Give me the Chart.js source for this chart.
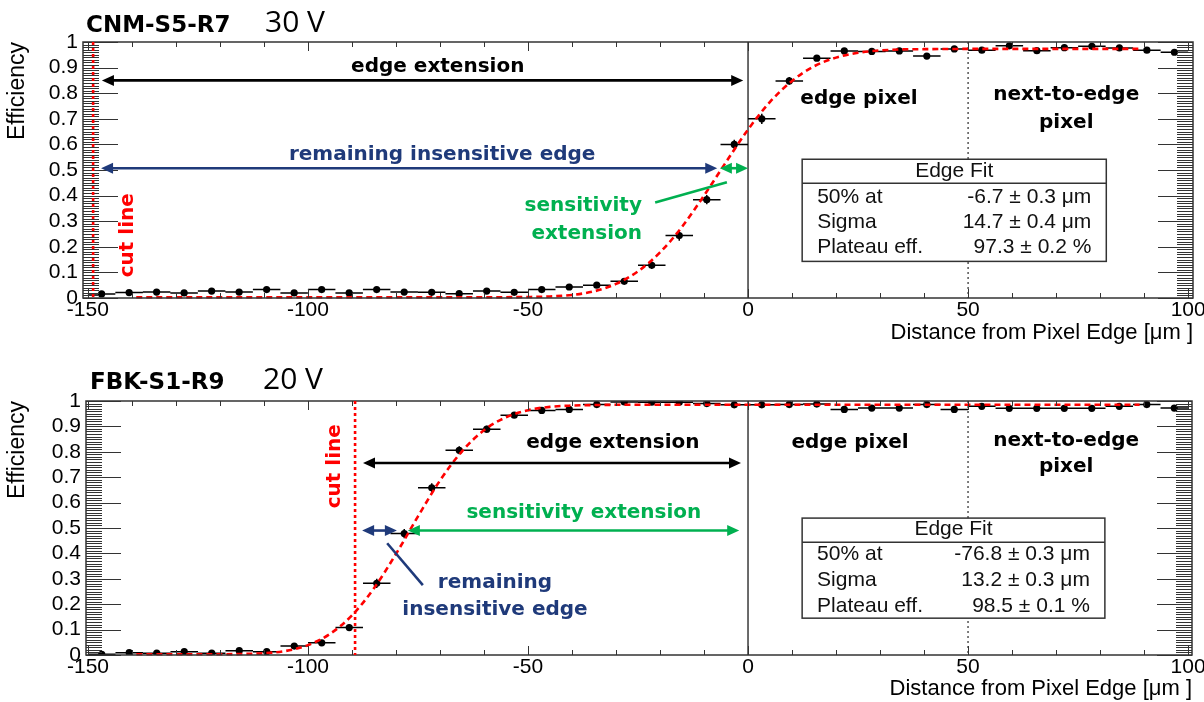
<!DOCTYPE html>
<html lang="en">
<head>
<meta charset="utf-8">
<title>Edge efficiency</title>
<script src="https://cdn.jsdelivr.net/npm/chart.js@4/dist/chart.umd.min.js"></script>
<style>
  html, body { margin: 0; padding: 0; background: #fff; }
  body { width: 1204px; height: 702px; position: relative; overflow: hidden; }
  .panel { position: absolute; left: 0; width: 1204px; }
  #panel-top { top: 0; height: 350px; }
  #panel-bottom { top: 350px; height: 352px; }
</style>
</head>
<body>
<div class="panel" id="panel-top"><canvas id="chart-cnm"></canvas></div>
<div class="panel" id="panel-bottom"><canvas id="chart-fbk"></canvas></div>
<script>
// --- Data ---
const binCenters = [
  -146.875, -140.625, -134.375, -128.125, -121.875, -115.625, -109.375, -103.125,
  -96.875, -90.625, -84.375, -78.125, -71.875, -65.625, -59.375, -53.125,
  -46.875, -40.625, -34.375, -28.125, -21.875, -15.625, -9.375, -3.125,
  3.125, 9.375, 15.625, 21.875, 28.125, 34.375, 40.625, 46.875,
  53.125, 59.375, 65.625, 71.875, 78.125, 84.375, 90.625, 96.875
];
const halfBin = 3.125;

// CNM-S5-R7, 30 V
const effCNM = [
  0.016, 0.021, 0.023, 0.020, 0.027, 0.023, 0.033, 0.020,
  0.033, 0.020, 0.033, 0.023, 0.022, 0.017, 0.027, 0.022,
  0.033, 0.043, 0.050, 0.065, 0.128, 0.244, 0.384, 0.600,
  0.700, 0.848, 0.937, 0.965, 0.963, 0.965, 0.945, 0.973,
  0.968, 0.985, 0.966, 0.978, 0.983, 0.977, 0.968, 0.960
];
const errCNM = [
  0.004, 0.004, 0.004, 0.004, 0.004, 0.004, 0.004, 0.004,
  0.004, 0.004, 0.004, 0.004, 0.004, 0.004, 0.004, 0.004,
  0.005, 0.006, 0.006, 0.008, 0.015, 0.020, 0.018, 0.018,
  0.020, 0.015, 0.010, 0.006, 0.005, 0.005, 0.006, 0.005,
  0.005, 0.004, 0.005, 0.004, 0.004, 0.004, 0.005, 0.005
];
const fitXCNM = [-139, -60, -50, -45, -40, -35, -30, -25, -20, -15, -10, -5, 0, 5, 10, 15, 20, 25, 30, 35, 40, 50, 89];
const fitYCNM = [0.003, 0.003, 0.004, 0.006, 0.012, 0.026, 0.055, 0.104, 0.178, 0.278, 0.400, 0.531, 0.658, 0.766, 0.848, 0.905, 0.939, 0.958, 0.967, 0.971, 0.972, 0.973, 0.973];
const statsCNM = ['-6.7 ± 0.3 μm', '14.7 ± 0.4 μm', '97.3 ± 0.2 %'];

// FBK-S1-R9, 20 V
const effFBK = [
  0.003, 0.009, 0.007, 0.013, 0.007, 0.017, 0.013, 0.035,
  0.048, 0.108, 0.282, 0.478, 0.658, 0.806, 0.889, 0.944,
  0.963, 0.967, 0.986, 0.996, 0.995, 0.995, 0.990, 0.985,
  0.985, 0.986, 0.988, 0.967, 0.972, 0.972, 0.986, 0.967,
  0.979, 0.971, 0.971, 0.971, 0.971, 0.979, 0.986, 0.972
];
const errFBK = [
  0.003, 0.003, 0.003, 0.003, 0.003, 0.004, 0.004, 0.006,
  0.008, 0.013, 0.018, 0.018, 0.018, 0.016, 0.014, 0.010,
  0.007, 0.006, 0.004, 0.003, 0.003, 0.003, 0.004, 0.004,
  0.004, 0.004, 0.004, 0.005, 0.005, 0.005, 0.004, 0.005,
  0.004, 0.005, 0.005, 0.005, 0.005, 0.004, 0.004, 0.005
];
const fitXFBK = [-139, -120, -115, -110, -105, -100, -95, -90, -85, -80, -75, -70, -65, -60, -55, -50, -45, -40, -35, -30, 89];
const fitYFBK = [0.003, 0.003, 0.004, 0.007, 0.016, 0.039, 0.083, 0.156, 0.263, 0.398, 0.546, 0.687, 0.802, 0.885, 0.936, 0.964, 0.977, 0.982, 0.984, 0.985, 0.985];
const statsFBK = ['-76.8 ± 0.3 μm', '13.2 ± 0.3 μm', '98.5 ± 0.1 %'];

// Axis ticks
const xTickValues = [-150, -100, -50, 0, 50, 100];
const xTickLabels = ['-150', '-100', '-50', '0', '50', '100'];
const yTickValues = [0, 0.1, 0.2, 0.3, 0.4, 0.5, 0.6, 0.7, 0.8, 0.9, 1];
const yTickLabels = ['0', '0.1', '0.2', '0.3', '0.4', '0.5', '0.6', '0.7', '0.8', '0.9', '1'];
const statLabels = ['50% at', 'Sigma', 'Plateau eff.'];

// --- Styles ---
const ROOT_FONT = "'Liberation Sans', Arial, sans-serif";
const NOTE_FONT = "'DejaVu Sans', Verdana, sans-serif";
const INK = '#000000';
const NAVY = '#1f3a7a';
const GREEN = '#00b050';
const RED = '#ff0000';

// --- Annotations (data units) ---
const notesCNM = {
  name: 'CNM-S5-R7', volt: '30 V', nameX: 86, voltX: 265, baseY: 32,
  cutX: -148.8, cutLabel: { x: -140.9, y: 0.245 },
  arrows: [
    { x1: -146.8, x2: -1.1, y: 0.85, color: INK },
    { x1: -147.0, x2: -7.0, y: 0.507, color: NAVY },
    { x1: -6.4, x2: 0, y: 0.507, color: GREEN }
  ],
  leaders: [{ x1: -21.1, y1: 0.373, x2: -4.8, y2: 0.452, color: GREEN }],
  texts: [
    { t: 'edge extension', x: -70.5, y: 0.905, color: INK },
    { t: 'remaining insensitive edge', x: -69.5, y: 0.561, color: NAVY },
    { t: 'sensitivity', x: -24.1, y: 0.361, color: GREEN, align: 'right' },
    { t: 'extension', x: -24.1, y: 0.252, color: GREEN, align: 'right' },
    { t: 'edge pixel', x: 25.2, y: 0.78, color: INK },
    { t: 'next-to-edge', x: 72.3, y: 0.792, color: INK },
    { t: 'pixel', x: 72.3, y: 0.686, color: INK }
  ],
  box: { x1: 12.3, x2: 81.4, yTop: 0.542, yBot: 0.143, yHead: 0.448, yTitle: 0.495,
         rows: [0.393, 0.296, 0.198], xLabel: 15.7, xValue: 78.0, values: statsCNM }
};

const notesFBK = {
  name: 'FBK-S1-R9', volt: '20 V', nameX: 90, voltX: 263, baseY: 39,
  cutX: -89.3, cutLabel: { x: -93.9, y: 0.743 },
  arrows: [
    { x1: -87.5, x2: -1.6, y: 0.756, color: INK },
    { x1: -87.7, x2: -79.8, y: 0.49, color: NAVY },
    { x1: -77.3, x2: -2.0, y: 0.49, color: GREEN }
  ],
  leaders: [{ x1: -82.0, y1: 0.440, x2: -73.9, y2: 0.275, color: NAVY }],
  texts: [
    { t: 'edge extension', x: -30.7, y: 0.834, color: INK },
    { t: 'sensitivity extension', x: -37.3, y: 0.558, color: GREEN },
    { t: 'remaining', x: -57.5, y: 0.283, color: NAVY },
    { t: 'insensitive edge', x: -57.5, y: 0.177, color: NAVY },
    { t: 'edge pixel', x: 23.2, y: 0.834, color: INK },
    { t: 'next-to-edge', x: 72.3, y: 0.842, color: INK },
    { t: 'pixel', x: 72.3, y: 0.739, color: INK }
  ],
  box: { x1: 12.3, x2: 81.1, yTop: 0.539, yBot: 0.145, yHead: 0.444, yTitle: 0.495,
         rows: [0.397, 0.295, 0.193], xLabel: 15.7, xValue: 77.7, values: statsFBK }
};

// --- Drawing helpers ---
function arrowHead(ctx, x, y, dir) {
  ctx.beginPath();
  ctx.moveTo(x, y);
  ctx.lineTo(x - dir * 12, y - 5.5);
  ctx.lineTo(x - dir * 12, y + 5.5);
  ctx.closePath();
  ctx.fill();
}

function drawArrow(ctx, xa, xb, y, color) {
  ctx.strokeStyle = color;
  ctx.fillStyle = color;
  ctx.lineWidth = 2.6;
  ctx.beginPath();
  ctx.moveTo(xa + 8, y);
  ctx.lineTo(xb - 8, y);
  ctx.stroke();
  arrowHead(ctx, xa, y, -1);
  arrowHead(ctx, xb, y, 1);
}

// --- ROOT-like frame and notes ---
const rootPlugin = {
  id: 'rootPlugin',
  beforeDatasetsDraw(chart) {
    const { ctx, chartArea: a, scales: { x } } = chart;
    ctx.save();
    ctx.strokeStyle = '#3a3a3a';
    ctx.lineWidth = 1.5;
    ctx.beginPath();
    ctx.moveTo(x.getPixelForValue(0), a.top);
    ctx.lineTo(x.getPixelForValue(0), a.bottom);
    ctx.stroke();
    ctx.lineWidth = 1.3;
    ctx.setLineDash([2, 3]);
    ctx.beginPath();
    ctx.moveTo(x.getPixelForValue(50), a.top);
    ctx.lineTo(x.getPixelForValue(50), a.bottom);
    ctx.stroke();
    ctx.restore();
  },
  afterDatasetsDraw(chart, args, opts) {
    const n = opts.notes;
    if (!n) return;
    const { ctx, chartArea: a } = chart;
    const px = v => chart.scales.x.getPixelForValue(v);
    const py = v => chart.scales.y.getPixelForValue(v);
    ctx.save();

    // inward ticks
    ctx.strokeStyle = '#333';
    ctx.lineWidth = 1;
    ctx.beginPath();
    for (let i = 0; i <= 100; i++) {
      const yy = Math.round(py(i / 100)) + 0.5;
      const len = i % 10 === 0 ? 35 : 16;
      ctx.moveTo(a.left, yy); ctx.lineTo(a.left + len, yy);
      ctx.moveTo(a.right, yy); ctx.lineTo(a.right - len, yy);
    }
    for (let v = -150; v <= 100; v += 10) {
      const xx = Math.round(px(v)) + 0.5;
      const len = v % 50 === 0 ? 9 : 5;
      ctx.moveTo(xx, a.bottom); ctx.lineTo(xx, a.bottom - len);
      ctx.moveTo(xx, a.top); ctx.lineTo(xx, a.top + len);
    }
    ctx.stroke();
    ctx.lineWidth = 1.5;
    ctx.strokeRect(a.left, a.top, a.right - a.left, a.bottom - a.top);

    // cut line
    ctx.strokeStyle = RED;
    ctx.lineWidth = 2.6;
    ctx.setLineDash([3, 3]);
    ctx.beginPath();
    ctx.moveTo(px(n.cutX), a.top);
    ctx.lineTo(px(n.cutX), a.bottom);
    ctx.stroke();
    ctx.setLineDash([]);

    // arrows and leader lines
    n.arrows.forEach(ar => drawArrow(ctx, px(ar.x1), px(ar.x2), py(ar.y), ar.color));
    n.leaders.forEach(l => {
      ctx.strokeStyle = l.color;
      ctx.lineWidth = 2.6;
      ctx.beginPath();
      ctx.moveTo(px(l.x1), py(l.y1));
      ctx.lineTo(px(l.x2), py(l.y2));
      ctx.stroke();
    });

    // bold notes
    ctx.font = 'bold 20px ' + NOTE_FONT;
    ctx.textBaseline = 'middle';
    n.texts.forEach(t => {
      ctx.fillStyle = t.color;
      ctx.textAlign = t.align || 'center';
      ctx.fillText(t.t, px(t.x), py(t.y));
    });

    // rotated "cut line"
    ctx.save();
    ctx.translate(px(n.cutLabel.x), py(n.cutLabel.y));
    ctx.rotate(-Math.PI / 2);
    ctx.fillStyle = RED;
    ctx.textAlign = 'center';
    ctx.fillText('cut line', 0, 0);
    ctx.restore();

    // fit box
    const b = n.box;
    const bx1 = px(b.x1), bx2 = px(b.x2), by1 = py(b.yTop), by2 = py(b.yBot);
    ctx.fillStyle = '#fff';
    ctx.fillRect(bx1, by1, bx2 - bx1, by2 - by1);
    ctx.strokeStyle = '#333';
    ctx.lineWidth = 1.5;
    ctx.strokeRect(bx1, by1, bx2 - bx1, by2 - by1);
    ctx.beginPath();
    ctx.moveTo(bx1, py(b.yHead));
    ctx.lineTo(bx2, py(b.yHead));
    ctx.stroke();
    ctx.fillStyle = '#111';
    ctx.font = '21px ' + ROOT_FONT;
    ctx.textAlign = 'center';
    ctx.fillText('Edge Fit', (bx1 + bx2) / 2, py(b.yTitle));
    b.rows.forEach((ry, i) => {
      ctx.textAlign = 'left';
      ctx.fillText(statLabels[i], px(b.xLabel), py(ry));
      ctx.textAlign = 'right';
      ctx.fillText(b.values[i], px(b.xValue), py(ry));
    });

    // panel title
    ctx.textBaseline = 'alphabetic';
    ctx.textAlign = 'left';
    ctx.fillStyle = '#000';
    ctx.font = 'bold 23px ' + NOTE_FONT;
    ctx.fillText(n.name, n.nameX, n.baseY);
    ctx.font = '30px "Open Sans", "Noto Sans", sans-serif';
    ctx.fillText(n.volt, n.voltX, n.baseY);

    ctx.restore();
  }
};
Chart.register(rootPlugin);

// --- Chart builder ---
function buildChart(canvasId, p) {
  const points = binCenters.map((c, i) => ({ x: c, y: p.eff[i] }));
  const xErr = [];
  const yErr = [];
  binCenters.forEach((c, i) => {
    xErr.push({ x: c - halfBin, y: p.eff[i] }, { x: c + halfBin, y: p.eff[i] }, { x: c + halfBin, y: null });
    yErr.push({ x: c, y: p.eff[i] - p.err[i] }, { x: c, y: p.eff[i] + p.err[i] }, { x: c, y: null });
  });
  const fit = p.fitX.map((v, i) => ({ x: v, y: p.fitY[i] }));

  return new Chart(document.getElementById(canvasId), {
    type: 'line',
    data: {
      datasets: [
        { label: 'fit', data: fit, borderColor: RED, borderWidth: 2.6, borderDash: [6, 4],
          pointRadius: 0, cubicInterpolationMode: 'monotone', clip: false },
        { label: 'points', data: points, showLine: false, pointRadius: 3.6,
          pointBackgroundColor: '#000', pointBorderWidth: 0 },
        { label: 'xerr', data: xErr, borderColor: '#000', borderWidth: 1.5, pointRadius: 0, spanGaps: false },
        { label: 'yerr', data: yErr, borderColor: '#000', borderWidth: 1.5, pointRadius: 0, spanGaps: false }
      ]
    },
    options: {
      responsive: true,
      maintainAspectRatio: false,
      animation: false,
      events: [],
      layout: { padding: { top: p.padTop, right: p.padRight, left: 0, bottom: 0 } },
      plugins: {
        legend: { display: false },
        tooltip: { enabled: false },
        rootPlugin: { notes: p.notes }
      },
      scales: {
        x: {
          type: 'linear',
          min: p.xMin,
          max: p.xMax,
          grid: { display: false, drawTicks: false },
          border: { display: false },
          afterBuildTicks: s => { s.ticks = xTickValues.map(v => ({ value: v })); },
          afterFit: s => { s.height = p.xAxisHeight; s.paddingLeft = 0; s.paddingRight = 0; },
          ticks: { autoSkip: false, maxRotation: 0, padding: 0, color: '#000',
                   font: { family: ROOT_FONT, size: 21 }, callback: (v, i) => xTickLabels[i] },
          title: { display: true, text: 'Distance from Pixel Edge [μm ]', align: 'end', color: '#000',
                   font: { family: ROOT_FONT, size: 22 }, padding: { top: 0, bottom: p.xTitlePad } }
        },
        y: {
          min: 0,
          max: 1,
          grid: { display: false, drawTicks: false },
          border: { display: false },
          afterBuildTicks: s => { s.ticks = yTickValues.map(v => ({ value: v })); },
          afterFit: s => { s.width = p.yAxisWidth; s.paddingTop = 0; s.paddingBottom = 0; },
          ticks: { autoSkip: false, padding: 5, color: '#000',
                   font: { family: ROOT_FONT, size: 21 }, callback: (v, i) => yTickLabels[i] },
          title: { display: true, text: 'Efficiency', align: 'end', color: '#000',
                   font: { family: ROOT_FONT, size: 23 }, padding: { top: 4, bottom: 0 } }
        }
      }
    }
  });
}

buildChart('chart-cnm', {
  eff: effCNM, err: errCNM, fitX: fitXCNM, fitY: fitYCNM, notes: notesCNM,
  xMin: -151.1, xMax: 101.1, padTop: 42, padRight: 11, xAxisHeight: 52, yAxisWidth: 83, xTitlePad: 4
});

buildChart('chart-fbk', {
  eff: effFBK, err: errFBK, fitX: fitXFBK, fitY: fitYFBK, notes: notesFBK,
  xMin: -150.45, xMax: 100.9, padTop: 51, padRight: 12, xAxisHeight: 47, yAxisWidth: 86, xTitlePad: 0
});
</script>
</body>
</html>
